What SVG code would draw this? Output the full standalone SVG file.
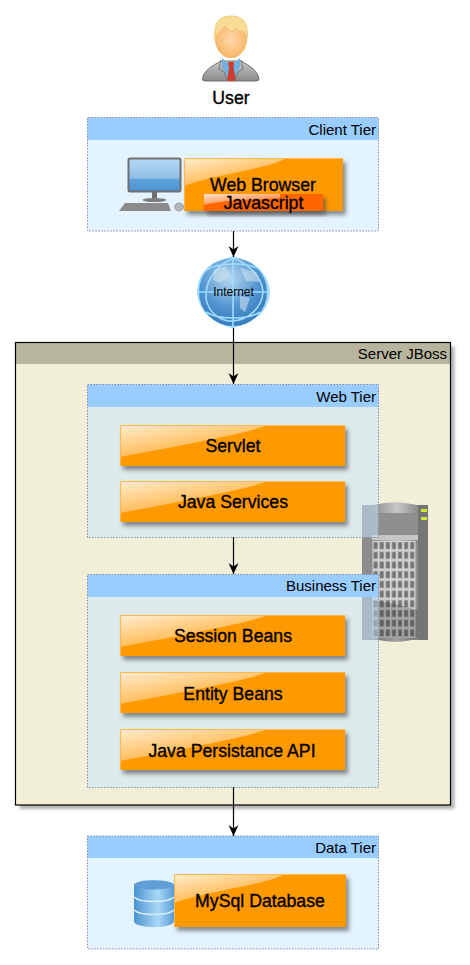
<svg xmlns="http://www.w3.org/2000/svg" width="470" height="965" viewBox="0 0 470 965">
<style>
text{font-family:"Liberation Sans",Arial,sans-serif;fill:#000}
.hd{fill:#99ccff}
.tier{fill:#c7e7ff;fill-opacity:.5}
.bd{fill:none;stroke:#8a8aa8;stroke-width:1;stroke-dasharray:1.5 1.5}
.box{fill:#ff9900;filter:url(#sh)}
.edge{fill:none;stroke:#ffb84d;stroke-width:1}
.lab{font-size:17.7px;text-anchor:middle;stroke:#000;stroke-width:.35px}
.tl{font-size:15px;text-anchor:end}
.cn{stroke:#000;stroke-width:1.2;fill:none;marker-end:url(#ar)}
</style>
<defs>
<marker id="ar" markerUnits="userSpaceOnUse" markerWidth="14" markerHeight="12" refX="12" refY="6" orient="auto" viewBox="0 0 14 12"><path d="M1 1 L4.500 6 L1 11 L12 6Z" fill="#000"/></marker>
<filter id="sh" x="-10%" y="-20%" width="125%" height="150%"><feDropShadow dx="3" dy="4" stdDeviation="2" flood-color="#4a4a4a" flood-opacity=".6"/></filter>
<filter id="shs" x="-5%" y="-5%" width="110%" height="110%"><feDropShadow dx="4" dy="4" stdDeviation="1.5" flood-color="#555" flood-opacity=".45"/></filter>
<linearGradient id="gl" x1="0" y1="0" x2=".75" y2="1"><stop offset="0" stop-color="#fff" stop-opacity=".82"/><stop offset="1" stop-color="#fff" stop-opacity=".12"/></linearGradient>
<radialGradient id="globe" cx=".45" cy=".3" r=".8"><stop offset="0" stop-color="#b9d9f0"/><stop offset=".55" stop-color="#4e92cf"/><stop offset="1" stop-color="#2f74b5"/></radialGradient>
<linearGradient id="screen" x1="0" y1="0" x2="0" y2="1"><stop offset="0" stop-color="#b5d9f4"/><stop offset=".6" stop-color="#8fc0e8"/><stop offset=".62" stop-color="#5fa2da"/><stop offset="1" stop-color="#4b92d0"/></linearGradient>
<linearGradient id="db" x1="0" y1="0" x2="1" y2="0"><stop offset="0" stop-color="#4d93cf"/><stop offset=".6" stop-color="#a9d8f8"/><stop offset="1" stop-color="#5a9dd6"/></linearGradient>
<linearGradient id="srv" x1="0" y1="0" x2="1" y2="0"><stop offset="0" stop-color="#8c8c8c"/><stop offset=".55" stop-color="#c8c8c8"/><stop offset="1" stop-color="#8a8a8a"/></linearGradient>
<linearGradient id="suit" x1="0" y1="0" x2="0" y2="1"><stop offset="0" stop-color="#c8c8c8"/><stop offset="1" stop-color="#8a8a8a"/></linearGradient>
<radialGradient id="face" cx=".5" cy=".45" r=".6"><stop offset="0" stop-color="#ffd9a8"/><stop offset="1" stop-color="#f6b264"/></radialGradient>
<pattern id="win" width="6.1" height="9.7" patternUnits="userSpaceOnUse" x="372.5" y="541"><rect width="6.1" height="9.7" fill="#cfcfcf"/><rect x="1.2" y="1.2" width="3.8" height="6.8" fill="#737373"/></pattern>
</defs>

<g id="user">
<path d="M202.500 79 C203 71 212 66 221 61 L241 61 C250 66 258 71 259 79 Q259 81 256 81 H206 Q202 81 202.500 79Z" fill="url(#suit)" stroke="#6f6f6f"/>
<path d="M222 58 L231 66 L240 58 L240 66 L233 81 L229 81 L222 66Z" fill="#6fb0e6"/>
<path d="M228 62 H234 L233.500 68 L236 81 H227 L229 68Z" fill="#d13b2e"/>
<path d="M221 60 L219 69 L224 72 L228 81 M241 60 L243 69 L238 72 L234 81" fill="none" stroke="#777" stroke-width="1"/>
<ellipse cx="231" cy="37" rx="16.500" ry="21" fill="#f2c47e"/>
<ellipse cx="231" cy="41" rx="15" ry="17" fill="url(#face)"/>
<path d="M215 39 C213 22 220 16 231 16 C243 16 249 22 247 38 C245 31 243 30 240 32 L236 28 L231 32 L225 26 L220 32 C217 33 216 35 215 39Z" fill="#f8dc96" stroke="#edc06e" stroke-width=".7"/>
<text x="231" y="104" class="lab">User</text>
</g>

<g id="client-tier">
<rect x="87.500" y="117.500" width="291" height="113.500" class="tier"/>
<rect x="87.500" y="117.500" width="291" height="22.500" class="hd"/>
<rect x="87.500" y="117.500" width="291" height="113.500" rx="1" class="bd"/>
<text x="376" y="135" class="tl">Client Tier</text>
</g>

<g id="computer">
<rect x="128.500" y="158.500" width="52" height="33" rx="1.500" fill="url(#screen)" stroke="#707070" stroke-width="2"/>
<rect x="152" y="192" width="5" height="8" fill="#6e6e6e"/>
<ellipse cx="154.500" cy="200" rx="12" ry="2" fill="#7d7d7d"/>
<path d="M125 203 H168 L171 211 H119Z" fill="#8b8b8b"/>
<ellipse cx="179" cy="207" rx="4.500" ry="4" fill="#b5b5b5" stroke="#888" stroke-width=".6"/>
</g>

<g id="web-browser">
<rect x="184" y="158" width="159" height="53" class="box"/>
<path d="M184 158 H287 C265 170 215 174 184 186Z" fill="url(#gl)"/>
<path d="M184.500 211 V158.500 H343" class="edge"/>
<text x="263" y="190.500" class="lab">Web Browser</text>
</g>
<g id="javascript">
<rect x="204" y="194" width="119" height="17" fill="#ff6600" filter="url(#sh)"/>
<path d="M204 194 H280 V198 C255 200 230 199 204 205Z" fill="url(#gl)"/>
<text x="263.500" y="208.500" class="lab">Javascript</text>
</g>

<g id="internet">
<path d="M233 256 L250 262 C263 269 269 280 270 292 C269 308 259 322 233 328 C209 323 198 308 197 292 C197 278 206 265 218 261Z" fill="#9fdcff"/>
<circle cx="233" cy="292" r="34" fill="url(#globe)"/>
<path d="M197 292 H270 M233 256 V328 M233 258 C213 268 205 284 206 298 C208 312 220 322 233 321 C248 320 262 308 263 292 C262 276 247 263 233 258 M207 270 C218 262 250 262 260 270 M206 312 C218 320 248 320 260 312" fill="none" stroke="#9fdcff" stroke-width="1.600"/>
<path d="M214 270 L226 266 L230 275 L220 283 L213 280Z M240 268 L256 272 L260 282 L246 281Z M240 296 L250 298 L245 312 L240 308Z" fill="#d4e5f1" fill-opacity=".55"/>
<text x="233.500" y="296" text-anchor="middle" style="font-size:12px">Internet</text>
</g>

<g id="server-jboss">
<rect x="15.500" y="342.500" width="435" height="462.500" fill="#f2efd9" filter="url(#shs)"/>
<rect x="15.500" y="342.500" width="435" height="21.500" fill="#b8b59f"/>
<rect x="15.500" y="342.500" width="435" height="462.500" fill="none" stroke="#000" stroke-width="1.200"/>
<text x="447" y="359" class="tl">Server JBoss</text>
</g>

<g id="server-icon">
<path d="M362 505 H428 V640 H362Z" fill="#8c8c8c"/>
<path d="M372 506 C385 501 405 501 418 506 V638 C405 643 385 643 372 638Z" fill="url(#srv)"/>
<rect x="372" y="513" width="46" height="22" fill="#8f8f8f"/>
<rect x="372" y="535" width="46" height="5" fill="#c6c6c6"/>
<rect x="372.500" y="541" width="43" height="97" fill="url(#win)"/>
<path d="M373 600 L395 604 L418 610 V638 C405 643 385 643 373 638Z" fill="#222" fill-opacity=".25"/>
<rect x="418" y="505" width="10" height="135" fill="#757575"/>
<rect x="421" y="509" width="6" height="3" fill="#d5e62e"/>
<rect x="421" y="517" width="6" height="3" fill="#d5e62e"/>
</g>

<g id="web-tier">
<rect x="87.500" y="384.500" width="291" height="153" class="tier"/>
<rect x="87.500" y="384.500" width="291" height="22.500" class="hd"/>
<rect x="87.500" y="384.500" width="291" height="153" class="bd"/>
<text x="376" y="402" class="tl">Web Tier</text>
</g>
<g id="servlet">
<rect x="120" y="425" width="225" height="41" class="box"/>
<path d="M120 425 H266 C262 430 190 444 120 457Z" fill="url(#gl)"/>
<path d="M120.500 466 V425.500 H345" class="edge"/>
<text x="233" y="452" class="lab">Servlet</text>
</g>
<g id="java-services">
<rect x="120" y="481" width="225" height="41" class="box"/>
<path d="M120 481 H266 C262 486 190 500 120 513Z" fill="url(#gl)"/>
<path d="M120.500 522 V481.500 H345" class="edge"/>
<text x="233" y="507.500" class="lab">Java Services</text>
</g>

<g id="business-tier">
<rect x="87.500" y="574.500" width="291" height="213" class="tier"/>
<rect x="87.500" y="574.500" width="291" height="22.500" class="hd"/>
<rect x="87.500" y="574.500" width="291" height="213" class="bd"/>
<text x="376" y="591" class="tl">Business Tier</text>
</g>
<g id="session-beans">
<rect x="120" y="615" width="225" height="41" class="box"/>
<path d="M120 615 H266 C262 620 190 634 120 647Z" fill="url(#gl)"/>
<path d="M120.500 656 V615.500 H345" class="edge"/>
<text x="233" y="642" class="lab">Session Beans</text>
</g>
<g id="entity-beans">
<rect x="120" y="672" width="225" height="41" class="box"/>
<path d="M120 672 H266 C262 677 190 691 120 704Z" fill="url(#gl)"/>
<path d="M120.500 713 V672.500 H345" class="edge"/>
<text x="233" y="699.500" class="lab">Entity Beans</text>
</g>
<g id="jpa">
<rect x="120" y="729" width="225" height="41" class="box"/>
<path d="M120 729 H266 C262 734 190 748 120 761Z" fill="url(#gl)"/>
<path d="M120.500 770 V729.500 H345" class="edge"/>
<text x="232" y="756.500" class="lab">Java Persistance API</text>
</g>

<g id="data-tier">
<rect x="87.500" y="836" width="291" height="113" class="tier"/>
<rect x="87.500" y="836" width="291" height="22" class="hd"/>
<rect x="87.500" y="836" width="291" height="113" class="bd"/>
<text x="376" y="853" class="tl">Data Tier</text>
</g>
<g id="database">
<path d="M134 886 C134 878 174 878 174 886 V921 C174 929 134 929 134 921Z" fill="url(#db)"/>
<ellipse cx="154" cy="885" rx="20" ry="4.500" fill="#5f9fd6"/>
<path d="M134 897 C140 903 168 903 174 897 M134 910 C140 916 168 916 174 910" fill="none" stroke="#d9efff" stroke-width="1.500"/>
</g>
<g id="mysql">
<rect x="174" y="874" width="172" height="53" class="box"/>
<path d="M174 874 H285 C262 886 210 890 174 903Z" fill="url(#gl)"/>
<path d="M174.500 927 V874.500 H346" class="edge"/>
<text x="260" y="907" class="lab">MySql Database</text>
</g>

<g id="connectors">
<path class="cn" d="M233.500 231 V257"/>
<path class="cn" d="M233.500 328 V384"/>
<path class="cn" d="M233.500 537 V574"/>
<path class="cn" d="M233.500 787 V836"/>
</g>
</svg>
